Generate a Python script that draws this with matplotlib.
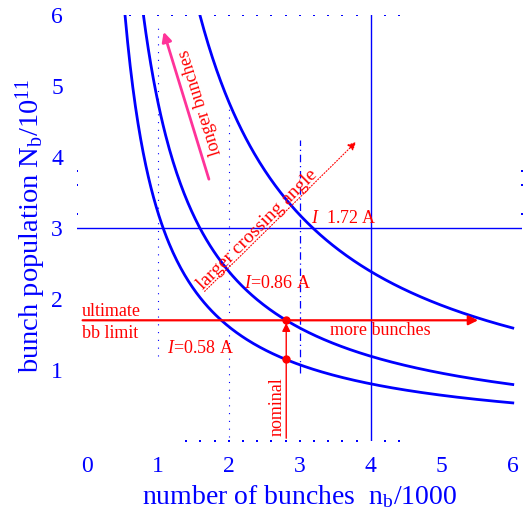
import numpy as np
import matplotlib
matplotlib.use("Agg")
import matplotlib.pyplot as plt

plt.rcParams['font.family'] = ['Liberation Serif', 'DejaVu Serif']
plt.rcParams['mathtext.fontset'] = 'custom'
plt.rcParams['mathtext.rm'] = 'Liberation Serif'
plt.rcParams['mathtext.it'] = 'Liberation Serif:italic'

# beam currents (A) of the three curves, and the product n_b*N_b in units of 1e14
currents = [0.58, 0.86, 1.72]
e_frev = 1.602e-19 * 11245  # charge * revolution frequency
products = [I / e_frev / 1e14 for I in currents]

nominal_nb = 2.808
nominal_Nb = 1.15
ultimate_Nb = 1.7
more_bunches_end = 5.55

xticks = [0, 1, 2, 3, 4, 5, 6]
yticks = [1, 2, 3, 4, 5, 6]

# leftover dotted grid bits
top_dots_x = [0.6, 0.8, 1.0, 1.2, 1.4, 1.6, 1.8, 2.0, 2.2, 2.4, 2.6, 2.8, 3.0, 3.2, 3.4, 3.6, 3.8, 4.2, 4.4]
bottom_dots_x = [1.4, 1.6, 1.8, 2.0, 2.2, 2.4, 2.6, 2.8, 3.0, 3.2, 3.4, 3.6, 3.8, 4.2, 4.4]
side_dots_y = [3.2, 3.6, 3.8]

blue = '#0000ff'
red = '#ff0000'

fig = plt.figure(figsize=(5.28, 5.16), dpi=100)
ax = fig.add_axes([77 / 528, 1 - 441 / 516, 445 / 528, 426 / 516])
ax.set_xlim(-0.14, 6.13)
ax.set_ylim(0, 6)
for s in ax.spines.values():
    s.set_visible(False)

# dotted guides
ax.plot([1, 1], [1.2, 5.82], color=blue, lw=0.8, ls=(0, (1, 6)))
ax.plot([2, 2], [0.05, 4.73], color=blue, lw=0.8, ls=(0, (1, 6)))
ax.plot([3, 3], [0.96, 4.24], color=blue, lw=0.9, ls=(0, (6, 3, 1, 3)))
ax.scatter(top_dots_x, [6] * len(top_dots_x), s=1.5, color=blue, marker='s', lw=0)
ax.scatter(bottom_dots_x, [0] * len(bottom_dots_x), s=1.5, color=blue, marker='s', lw=0)
ax.scatter([-0.14] * 3, side_dots_y, s=1.5, color=blue, marker='s', lw=0)
ax.scatter([6.13] * 3, side_dots_y, s=1.5, color=blue, marker='s', lw=0)

# reference lines
ax.axhline(3, color=blue, lw=1.0)
ax.axvline(4, color=blue, lw=1.0)

# constant current curves
for k in products:
    x = np.linspace(k / 6, 6, 300)
    ax.plot(x, k / x, color=blue, lw=2.0)

# ultimate beam-beam limit -> more bunches
ax.annotate('', xy=(more_bunches_end, ultimate_Nb), xytext=(-0.1, ultimate_Nb),
            arrowprops=dict(arrowstyle='-|>', color=red, lw=1.6, mutation_scale=14))
# nominal
ax.annotate('', xy=(nominal_nb, ultimate_Nb), xytext=(nominal_nb, 0),
            arrowprops=dict(arrowstyle='-|>', color=red, lw=1.0, mutation_scale=12))
ax.plot([nominal_nb, nominal_nb], [nominal_Nb, ultimate_Nb], 'o', color=red, ms=5)

# crossing angle arrow
ax.annotate('', xy=(3.82, 4.24), xytext=(1.63, 2.08),
            arrowprops=dict(arrowstyle='-|>', color=red, lw=0.8, ls=':', mutation_scale=12))
# longer bunches arrow
ax.annotate('', xy=(1.07, 5.8), xytext=(1.73, 3.65),
            arrowprops=dict(arrowstyle='-|>', color='#ff3399', lw=2.0, mutation_scale=14))

fs = 13
ax.text(-0.07, 1.76, 'ultimate', color=red, fontsize=fs, ha='left', va='baseline')
ax.text(-0.07, 1.64, 'bb limit', color=red, fontsize=fs, ha='left', va='top')
ax.text(1.6, 1.3, r'$I$=0.58 A', color=red, fontsize=fs, ha='center', va='center')
ax.text(2.69, 2.22, r'$I$=0.86 A', color=red, fontsize=fs, ha='center', va='center')
ax.text(3.62, 3.14, r'$I$  1.72 A', color=red, fontsize=fs, ha='center', va='center')
ax.text(4.13, 1.56, 'more bunches', color=red, fontsize=fs, ha='center', va='center')
ax.text(2.68, 0.48, 'nominal', color=red, fontsize=fs, ha='center', va='center', rotation=90)
ax.text(2.4, 2.98, 'larger crossing angle', color=red, fontsize=14, ha='center', va='center',
        rotation=45, rotation_mode='anchor')
ax.text(1.6, 4.77, 'longer bunches', color=red, fontsize=fs, ha='center', va='center',
        rotation=107.5, rotation_mode='anchor')

ax.set_xticks(xticks)
ax.set_yticks(yticks)
ax.tick_params(length=0, labelsize=17, labelcolor=blue, pad=0)
ax.tick_params(axis='x', pad=11)
ax.tick_params(axis='y', pad=10)

fig.text(300 / 528, 1 - 497 / 516, r'number of bunches  n$_\mathrm{b}$/1000', color=blue,
         fontsize=20, ha='center', va='center')
fig.text(31 / 528, 1 - 226 / 516, r'bunch population N$_\mathrm{b}$/10$^{11}$', color=blue,
         fontsize=20.5, ha='center', va='center', rotation=90)

fig.savefig('out.png', dpi=100)
